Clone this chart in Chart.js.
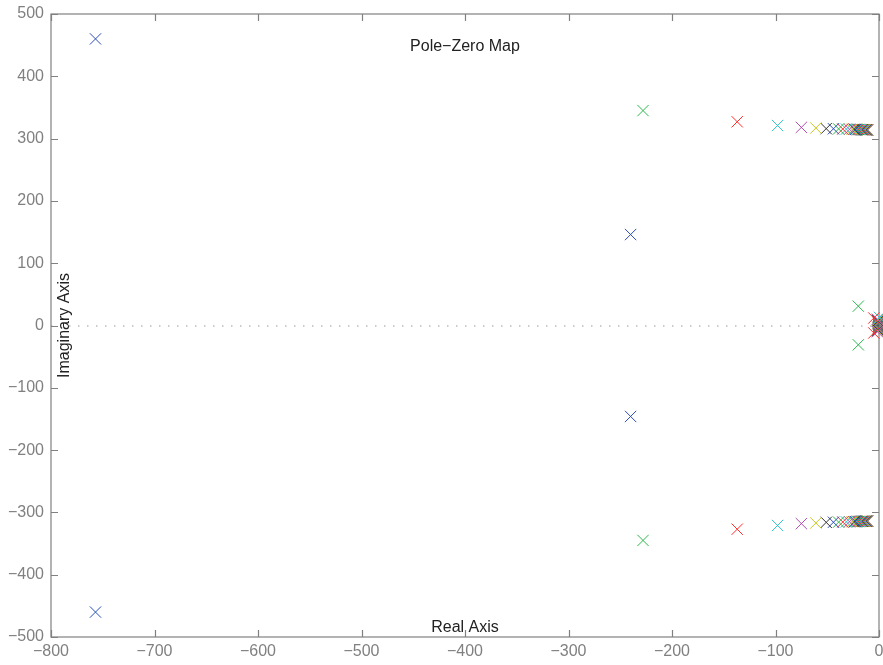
<!DOCTYPE html>
<html>
<head>
<meta charset="utf-8">
<script src="https://cdn.jsdelivr.net/npm/chart.js@4/dist/chart.umd.min.js"></script>
<style>
    html, body { margin: 0; padding: 0; background: #fff; }
    .wrap { width: 883px; height: 665px; }
</style>
</head>
<body>
<div class="wrap"><canvas id="pz" width="883" height="665"></canvas></div>
<script>
// MATLAB-style colour cycle b g r c m y k
const cycleColors = ['#2b4cba', '#2db84d', '#ff2a2a', '#2cc4c8', '#b44cb4', '#c8c81e', '#333333'];

// one entry per system: upper pole pair (near +/-314j) and lower pole pair
const highRe = [-757, -228, -137, -98, -75, -61, -51, -44, -39, -35, -31.5, -28.5, -26, -24, -22.5,
                -21, -20, -19, -18.2, -17.5, -16.8, -16.2, -15.6, -15, -14.5, -14, -13.5, -13,
                -12.6, -12.2, -11.8, -11.4, -11, -10.6];
const highIm = [460, 345, 327, 321, 318, 317, 316, 315.8, 315.6, 315.4, 315.2, 315, 315, 314.9, 314.8,
                314.7, 314.6, 314.6, 314.5, 314.5, 314.4, 314.4, 314.3, 314.3, 314.3, 314.2, 314.2, 314.2,
                314.1, 314.1, 314.1, 314, 314, 314];
const lowRe  = [-240, -20, -5, 0.5, -1.5, -1.2, -1, -0.9, -0.8, -0.7, -0.6, -0.5, -0.5, -0.4, -0.4,
                -0.3, -0.3, -0.3, -0.2, -0.2, -0.2, -0.2, -0.1, -0.1, -0.1, -0.1, -0.1, 0, 0,
                0, 0, 0, 0, 0];
const lowIm  = [146, 31, 12, 13, 10, 9, 8, 7.5, 7, 6.5, 6, 5.5, 5, 4.8, 4.6,
                4.4, 4.2, 4, 3.8, 3.6, 3.4, 3.2, 3, 2.8, 2.6, 2.4, 2.2, 2, 1.8,
                1.6, 1.4, 1.2, 1, 0.8];

const xTicks = [-800, -700, -600, -500, -400, -300, -200, -100, 0];
const yTicks = [-500, -400, -300, -200, -100, 0, 100, 200, 300, 400, 500];

const datasets = highRe.map((re, i) => ({
    data: [
        { x: re, y: highIm[i] }, { x: re, y: -highIm[i] },
        { x: lowRe[i], y: lowIm[i] }, { x: lowRe[i], y: -lowIm[i] }
    ],
    borderColor: cycleColors[i % cycleColors.length],
    backgroundColor: 'rgba(0,0,0,0)',
    pointStyle: 'crossRot',
    pointRadius: 8,
    pointBorderWidth: 1,
    clip: 12
}));

function fmt(v) { return v < 0 ? '\u2212' + Math.abs(v) : String(v); }

// frame, inward ticks, zero line and inner labels
const framePlugin = {
    id: 'frame',
    beforeDatasetsDraw(chart) {
        const { ctx, chartArea: a, scales } = chart;
        ctx.save();
        // dotted zero line
        const y0 = scales.y.getPixelForValue(0);
        ctx.strokeStyle = '#999';
        ctx.lineWidth = 1;
        ctx.setLineDash([1.5, 7.5]);
        ctx.beginPath();
        ctx.moveTo(a.left, y0 + 0.5);
        ctx.lineTo(a.right, y0 + 0.5);
        ctx.stroke();
        ctx.setLineDash([]);

        ctx.strokeStyle = '#808080';
        ctx.lineWidth = 1.2;
        ctx.strokeRect(a.left, a.top, a.right - a.left, a.bottom - a.top);
        const tl = 7;
        ctx.beginPath();
        xTicks.forEach(v => {
            const px = Math.round(scales.x.getPixelForValue(v)) + 0.5;
            ctx.moveTo(px, a.bottom); ctx.lineTo(px, a.bottom - tl);
            ctx.moveTo(px, a.top); ctx.lineTo(px, a.top + tl);
        });
        yTicks.forEach(v => {
            const py = Math.round(scales.y.getPixelForValue(v)) + 0.5;
            ctx.moveTo(a.left, py); ctx.lineTo(a.left + tl, py);
            ctx.moveTo(a.right, py); ctx.lineTo(a.right - tl, py);
        });
        ctx.stroke();

        const cx = (a.left + a.right) / 2;
        ctx.fillStyle = '#222';
        ctx.font = '16px "Liberation Sans", Arial, sans-serif';
        ctx.textAlign = 'center';
        ctx.textBaseline = 'alphabetic';
        ctx.fillText('Pole\u2212Zero Map', cx, 51);
        ctx.fillText('Real Axis', cx, a.bottom - 5);
        ctx.translate(a.left + 18, (a.top + a.bottom) / 2);
        ctx.rotate(-Math.PI / 2);
        ctx.textBaseline = 'bottom';
        ctx.fillText('Imaginary Axis', 0, 4);
        ctx.restore();
    }
};

new Chart(document.getElementById('pz').getContext('2d'), {
    type: 'scatter',
    data: { datasets: datasets },
    options: {
        responsive: false,
        animation: false,
        layout: { autoPadding: false, padding: { left: 0, right: 4, top: 14, bottom: 0 } },
        plugins: { legend: { display: false }, tooltip: { enabled: false } },
        scales: {
            x: {
                type: 'linear', min: -800, max: 0,
                afterBuildTicks: s => { s.ticks = xTicks.map(v => ({ value: v })); },
                afterFit: s => { s.height = 28; s.paddingLeft = 0; s.paddingRight = 0; },
                grid: { display: false, drawTicks: false },
                border: { display: false },
                ticks: {
                    color: '#808080', padding: 5,
                    font: { family: '"Liberation Sans", Arial, sans-serif', size: 16 },
                    callback: v => fmt(v), maxRotation: 0, autoSkip: false
                }
            },
            y: {
                type: 'linear', min: -500, max: 500,
                afterBuildTicks: s => { s.ticks = yTicks.map(v => ({ value: v })); },
                afterFit: s => { s.width = 51; s.paddingTop = 0; s.paddingBottom = 0; },
                grid: { display: false, drawTicks: false },
                border: { display: false },
                ticks: {
                    color: '#808080', padding: 7,
                    font: { family: '"Liberation Sans", Arial, sans-serif', size: 16 },
                    callback: v => fmt(v), autoSkip: false
                }
            }
        }
    },
    plugins: [framePlugin]
});
</script>
</body>
</html>
